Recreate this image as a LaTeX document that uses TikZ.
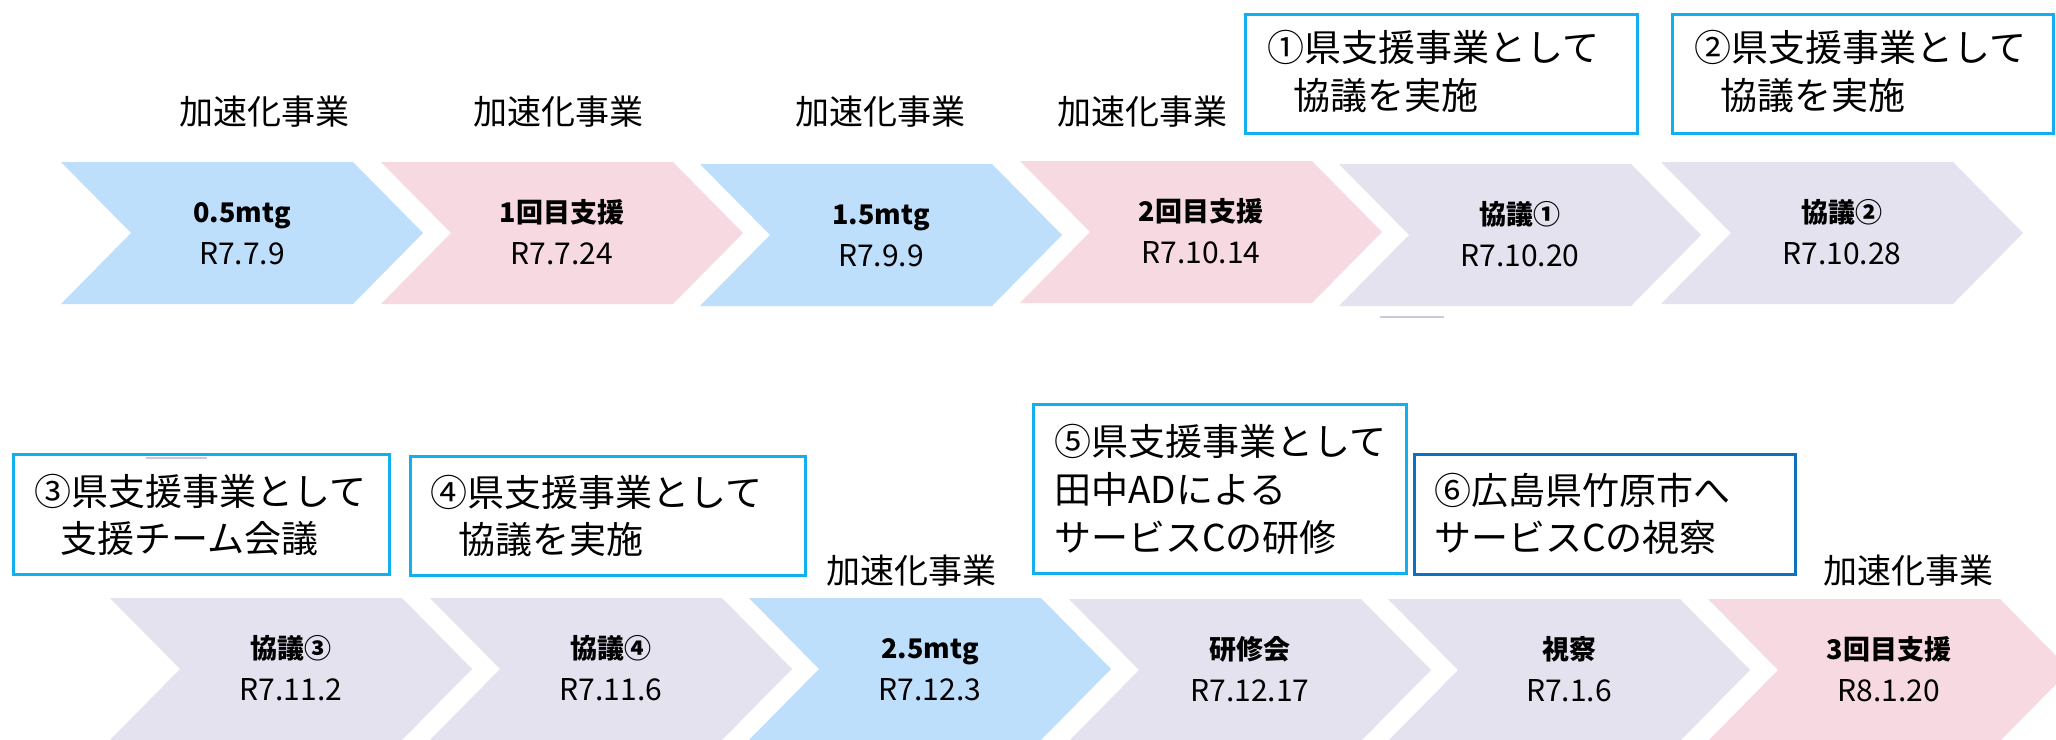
\documentclass[tikz,border=0pt]{standalone}
\usepackage{fontspec}
\setmainfont{Noto Sans CJK JP}
\definecolor{cblue}{RGB}{189,223,252}
\definecolor{cpink}{RGB}{247,217,226}
\definecolor{cgray}{RGB}{227,226,238}
\definecolor{bdlight}{RGB}{17,176,236}
\definecolor{bddark}{RGB}{16,112,192}
\definecolor{artline}{RGB}{200,200,222}
\begin{document}
\begin{tikzpicture}[x=1pt,y=-1pt,
  pics/chev/.style={code={\fill[#1] (0,0) -- (292,0) -- (362,71) -- (292,142) -- (0,142) -- (70,71) -- cycle;}},
  ttl/.style={anchor=base, inner sep=0, font=\fontsize{27}{30}\selectfont\bfseries},
  dt/.style={anchor=base, inner sep=0, font=\fontsize{30}{32}\selectfont},
  lbl/.style={anchor=base, inner sep=0, font=\fontsize{34}{36}\selectfont},
  bx/.style={draw=#1, line width=2.5pt, inner sep=0, anchor=north west},
  bxt/.style={anchor=base west, inner sep=0, font=\fontsize{37}{40}\selectfont},
]
\clip (0,0) rectangle (2056,739);
\fill[white] (0,0) rectangle (2056,739);

% row 1 chevrons
\foreach \L/\T/\c/\ti/\da [count=\i] in {
  61/162/cblue/0.5mtg/R7.7.9,
  381/162/cpink/1回目支援/R7.7.24,
  700/164/cblue/1.5mtg/R7.9.9,
  1020/161/cpink/2回目支援/R7.10.14,
  1339/164/cgray/協議①/R7.10.20,
  1661/162/cgray/協議②/R7.10.28}{
  \pic at (\L,\T) {chev=\c};
  \node[ttl] (ta\i) at (\L+181,\T+60) {\ti};
  \node[dt] (da\i) at (\L+181,\T+102) {\da};
}
% row 2 chevrons
\foreach \L/\T/\c/\ti/\da [count=\i] in {
  110/598/cgray/協議③/R7.11.2,
  430/598/cgray/協議④/R7.11.6,
  749/598/cblue/2.5mtg/R7.12.3,
  1069/599/cgray/研修会/R7.12.17,
  1388/599/cgray/視察/R7.1.6,
  1708/599/cpink/3回目支援/R8.1.20}{
  \pic at (\L,\T) {chev=\c};
  \node[ttl] (tb\i) at (\L+181,\T+60) {\ti};
  \node[dt] (db\i) at (\L+181,\T+102) {\da};
}

% labels
\node[lbl] (l1) at (264,124) {加速化事業};
\node[lbl] (l2) at (558,124) {加速化事業};
\node[lbl] (l3) at (880,124) {加速化事業};
\node[lbl] (l4) at (1142,124) {加速化事業};
\node[lbl] (l5) at (911,583) {加速化事業};
\node[lbl] (l6) at (1908,583) {加速化事業};

% boxes
\node[bx=bdlight, minimum width=392pt, minimum height=119pt] (b1) at (1244,13) {};
\node[bxt] (b1a) at (1267,61) {①県支援事業として};
\node[bxt] (b1b) at (1293,109) {協議を実施};

\node[bx=bdlight, minimum width=381pt, minimum height=119pt] (b2) at (1671,13) {};
\node[bxt] (b2a) at (1694,61) {②県支援事業として};
\node[bxt] (b2b) at (1720,109) {協議を実施};

\node[bx=bdlight, minimum width=376pt, minimum height=120pt] (b3) at (12,453) {};
\node[bxt] (b3a) at (34,505) {③県支援事業として};
\node[bxt] (b3b) at (60,552) {支援チーム会議};

\node[bx=bdlight, minimum width=395pt, minimum height=119pt] (b4) at (409,455) {};
\node[bxt] (b4a) at (430,506) {④県支援事業として};
\node[bxt] (b4b) at (458,553) {協議を実施};

\node[bx=bdlight, minimum width=373pt, minimum height=169pt] (b5) at (1032,403) {};
\node[bxt] (b5a) at (1054,455) {⑤県支援事業として};
\node[bxt] (b5b) at (1054,503) {田中ADによる};
\node[bxt] (b5c) at (1054,551) {サービスCの研修};

\node[bx=bddark, minimum width=381pt, minimum height=120pt] (b6) at (1413,453) {};
\node[bxt] (b6a) at (1434,504) {⑥広島県竹原市へ};
\node[bxt] (b6b) at (1434,551) {サービスCの視察};

% small stray marks
\draw[artline, line width=2pt] (1380,317) -- (1444,317);
\draw[artline, line width=2pt] (146,458) -- (207,458);
\end{tikzpicture}
\end{document}
